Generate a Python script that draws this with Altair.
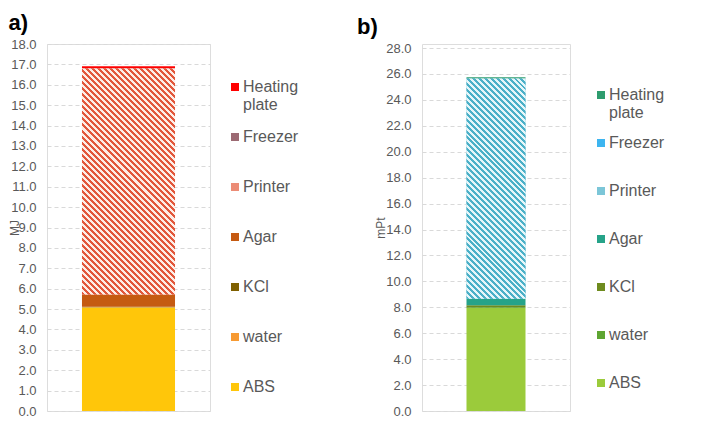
import altair as alt
import pandas as pd

# ---------------- data ----------------
components = ["ABS", "water", "KCl", "Agar", "Printer", "Freezer", "Heating plate"]
energy_mj = [5.08, 0.01, 0.02, 0.60, 11.09, 0.01, 0.10]      # panel a) MJ
score_mpt = [7.95, 0.05, 0.15, 0.50, 16.99, 0.01, 0.10]      # panel b) mPt

colors_a = ["#FFC60A", "#F79A32", "#7F6000", "#C55A11", "#E2573B", "#9C6A73", "#FF0000"]
colors_b = ["#9BCB3B", "#5EA532", "#6E8B1E", "#26A389", "#4BB0C8", "#3DB5F0", "#2E9C6E"]
swatch_a = "#EC8C76"   # legend swatch for hatched Printer
swatch_b = "#7CC6D8"
gap_a = "#FDEDE6"
gap_b = "#E6F6F9"

ticks_a = [0.0, 1.0, 2.0, 3.0, 4.0, 5.0, 6.0, 7.0, 8.0, 9.0, 10.0, 11.0, 12.0,
           13.0, 14.0, 15.0, 16.0, 17.0, 18.0]
ticks_b = [0.0, 2.0, 4.0, 6.0, 8.0, 10.0, 12.0, 14.0, 16.0, 18.0, 20.0, 22.0,
           24.0, 26.0, 28.0]

FONT = "Liberation Sans"
GREY = "#595959"


def stack(values):
    y0, y1, b = [], [], 0.0
    for v in values:
        y0.append(b)
        b += v
        y1.append(b)
    return pd.DataFrame({"component": components, "value": values,
                         "y0": y0, "y1": y1, "bar": "total"})


def hatch_gradient(w, h, stripe, gap, period=6.0):
    # diagonal "\" stripes made from a linear gradient with hard stops
    d = w * w + h * h
    gx = w * (w + h) / d
    gy = h * (w + h) / d
    n = max(1, int(round((w + h) / period)))
    stops = []
    for i in range(n):
        a = i / n
        m = (i + 0.5) / n
        c = (i + 1) / n
        stops += [alt.GradientStop(offset=a, color=stripe),
                  alt.GradientStop(offset=m, color=stripe),
                  alt.GradientStop(offset=m, color=gap),
                  alt.GradientStop(offset=c, color=gap)]
    return alt.LinearGradient(gradient="linear", stops=stops,
                              x1=0, y1=1, x2=gx, y2=1 - gy)


def panel(values, colors, swatch, gap, ymax, ticks, ytitle, label, W, H,
          pad_outer, lx, ly, rp, tx, toff, tdx):
    df = stack(values)
    bw = W / (1 + 2 * pad_outer)
    pr = df[df.component == "Printer"].iloc[0]
    h = (pr.y1 - pr.y0) * H / ymax
    grad = hatch_gradient(bw, h, colors[components.index("Printer")], gap)

    legend_order = components[::-1]
    rng = [(swatch if c == "Printer" else col) for c, col in zip(components, colors)][::-1]

    x = alt.X("bar:N", axis=None,
              scale=alt.Scale(paddingInner=0, paddingOuter=pad_outer))
    y = alt.Y("y1:Q",
              scale=alt.Scale(domain=[0, ymax], nice=False, zero=True),
              axis=alt.Axis(values=ticks, format=".1f", title=ytitle,
                            grid=True, gridDash=[4, 3], gridColor="#D9D9D9",
                            domain=False, ticks=False, labelPadding=11,
                            labelFontSize=13, labelColor=GREY, labelFont=FONT,
                            titleFontSize=12, titleColor=GREY, titleFont=FONT,
                            titleFontWeight="normal", titleBaseline="alphabetic",
                            titleX=tx, titleY=H / 2))

    base = alt.Chart(df)
    bars = base.mark_bar().encode(
        x=x, y=y, y2="y0:Q",
        color=alt.Color("component:N",
                        scale=alt.Scale(domain=legend_order, range=rng),
                        legend=alt.Legend(
                            title=None, orient="none", legendX=lx, legendY=ly,
                            symbolType="square", symbolSize=64,
                            symbolStrokeWidth=0, labelFontSize=16,
                            labelColor=GREY, labelFont=FONT, rowPadding=rp,
                            gridAlign="all", labelOffset=0, padding=0,
                            labelExpr="datum.label == 'Heating plate' ? ['Heating', 'plate'] : datum.label")),
    )
    hatch = base.transform_filter("datum.component == 'Printer'").mark_bar(
        fill=grad).encode(x=x, y=y, y2="y0:Q")

    return alt.layer(bars, hatch).properties(
        width=W, height=H,
        title=alt.TitleParams(label, anchor="start", frame="bounds",
                              fontSize=22, fontWeight="bold", font=FONT,
                              color="#000000", offset=toff, dx=tdx),
    )


pa = panel(energy_mj, colors_a, swatch_a, gap_a, 18, ticks_a, "MJ", "a)",
           163, 367, 0.376, 180, 35, 16, -28.5, 3, 0)
pb = panel(score_mpt, colors_b, swatch_b, gap_b, 28.31, ticks_b, "mPt", "b)",
           148, 367, 0.754, 171, 43, 14, -38, 3, -17)

chart = alt.hconcat(pa, pb, spacing=56).resolve_scale(
    color="independent"
).properties(
    padding={"left": 0, "top": 3, "right": 0, "bottom": 0}
).configure_view(stroke=GREY, strokeWidth=1).configure(font=FONT, background="white")

chart.save("out.html", embed_options={"renderer": "svg", "actions": False})
